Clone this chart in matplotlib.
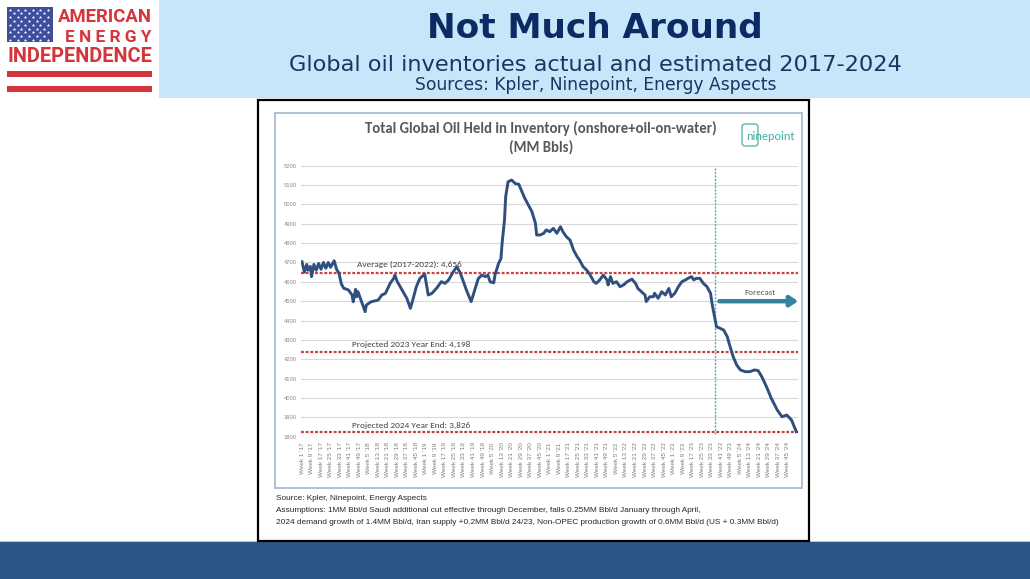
import matplotlib
matplotlib.use('Agg')
import matplotlib.pyplot as plt
from matplotlib.patches import Rectangle, FancyBboxPatch
import numpy as np

# ---------------- data ----------------
week_index = [0, 2, 4, 5, 7, 8, 10, 12, 14, 16, 18, 20, 22, 24, 27, 29, 31, 33, 35, 39,
              42, 43, 45, 46, 47, 50, 53, 54, 58, 64, 67, 70, 74, 77, 78, 80, 84, 88, 91, 93,
              96, 99, 103, 106, 109, 113, 117, 120, 123, 127, 130, 133, 135, 138, 142, 145,
              148, 151, 154, 156, 158, 161, 162, 165, 167, 168, 170, 171, 173, 176, 179, 182,
              184, 187, 190, 193, 196, 197, 200, 203, 205, 208, 211, 214, 217, 219, 222, 225,
              226, 228, 231, 233, 236, 239, 242, 245, 247, 250, 253, 256, 257, 259, 261, 264,
              267, 270, 273, 277, 280, 282, 285, 288, 289, 292, 295, 296, 299, 302, 305, 308,
              310, 313, 316, 319, 322, 324, 327, 329, 331, 334, 337, 340, 343, 344, 345, 348,
              351, 354, 357, 359, 362, 365, 368, 372, 376, 380, 383, 386, 390, 394, 399, 403,
              407, 411, 415]
inventory = [4704, 4650, 4690, 4660, 4680, 4627, 4690, 4660, 4695, 4665, 4700, 4670, 4700, 4675,
             4709, 4665, 4645, 4590, 4567, 4558, 4532, 4497, 4561, 4523, 4549, 4497, 4446, 4480,
             4497, 4506, 4532, 4540, 4592, 4618, 4635, 4601, 4558, 4515, 4463, 4506, 4575, 4618,
             4640, 4532, 4540, 4567, 4601, 4592, 4609, 4652, 4678, 4644, 4609, 4558, 4498, 4557,
             4617, 4635, 4627, 4635, 4600, 4595, 4635, 4695, 4720, 4799, 4919, 5040, 5117, 5126,
             5108, 5104, 5075, 5032, 4997, 4963, 4902, 4842, 4842, 4851, 4868, 4859, 4876, 4851,
             4885, 4859, 4833, 4816, 4799, 4764, 4730, 4713, 4678, 4661, 4635, 4601, 4592, 4610,
             4635, 4610, 4584, 4627, 4592, 4601, 4575, 4584, 4601, 4614, 4592, 4566, 4549, 4532,
             4498, 4523, 4523, 4541, 4515, 4549, 4532, 4566, 4523, 4541, 4575, 4601, 4610, 4618,
             4627, 4610, 4618, 4618, 4592, 4575, 4541, 4498, 4463, 4368, 4360, 4351, 4317, 4274,
             4213, 4170, 4145, 4136, 4136, 4145, 4141, 4110, 4058, 3998, 3938, 3903, 3912, 3886,
             3826]

ref_levels = [4648, 4238, 3822]
ref_labels = ["Average (2017-2022): 4,656",
              "Projected 2023 Year End: 4,198",
              "Projected 2024 Year End: 3,826"]
ref_label_x = [46, 42, 42]
ref_label_y = [4676, 4264, 3845]

forecast_start = 347
forecast_arrow = (350.4, 416.5, 4500)
forecast_text_pos = (384.5, 4544)

y_ticks = list(range(3800, 5201, 100))
tick_weeks = list(range(0, 409, 8))
tick_labels = ["Week %d '%d" % (w % 52 + 1, 17 + w // 52) for w in tick_weeks]

title = "Not Much Around"
subtitle = "Global oil inventories actual and estimated 2017-2024"
sources = "Sources: Kpler, Ninepoint, Energy Aspects"
chart_title1 = "Total Global Oil Held in Inventory (onshore+oil-on-water)"
chart_title2 = "(MM Bbls)"
notes = ["Source: Kpler, Ninepoint, Energy Aspects",
         "Assumptions: 1MM Bbl/d Saudi additional cut effective through December, falls 0.25MM Bbl/d January through April,",
         "2024 demand growth of 1.4MM Bbl/d, Iran supply +0.2MM Bbl/d 24/23, Non-OPEC production growth of 0.6MM Bbl/d (US + 0.3MM Bbl/d)"]

# ---------------- figure ----------------
W, H = 1030, 579
fig = plt.figure(figsize=(W / 100, H / 100), dpi=100)
fig.patch.set_facecolor('white')

deco = fig.add_axes([0, 0, 1, 1], zorder=0)
deco.set_xlim(0, W)
deco.set_ylim(H, 0)
deco.axis('off')

RED = '#d6343a'
NAVY = '#0c2a63'
CHART_FONT = ['Carlito', 'Lato', 'DejaVu Sans']
NARROW = ['Liberation Sans Narrow', 'Liberation Sans', 'DejaVu Sans']

# header band
deco.add_patch(Rectangle((159, 0), W - 159, 98, color='#c8e6fa', lw=0))
# bottom bar
deco.add_patch(Rectangle((0, 540.5), W, 2, color='#b7c6d6', lw=0))
deco.add_patch(Rectangle((0, 542), W, H - 542, color='#2a5785', lw=0))
# image box
deco.add_patch(Rectangle((257.5, 99.5), 551, 441, facecolor='white', edgecolor='black', lw=1.6))
# chart frame
deco.add_patch(Rectangle((275, 113), 527, 375, fill=False, edgecolor='#a9bccf', lw=1.3))

# logo: flag
deco.add_patch(Rectangle((7, 7), 46, 35, color='#3d4e9e', lw=0))
for r in range(9):
    yy = 9.5 + r * 3.8
    n = 6 if r % 2 == 0 else 5
    x0 = 10 if r % 2 == 0 else 13.8
    xs = [x0 + k * 7.6 for k in range(n)]
    deco.plot(xs, [yy] * n, ls='none', marker='*', ms=2.6, color='white', mew=0)
deco.add_patch(Rectangle((7, 71), 145, 6, color=RED, lw=0))
deco.add_patch(Rectangle((7, 86), 145, 6, color=RED, lw=0))
deco.text(152, 22.5, "AMERICAN", ha='right', va='baseline', fontsize=13.3, weight='bold',
          color=RED, family=['Roboto', 'DejaVu Sans'])
deco.text(151.5, 41.7, "E N E R G Y", ha='right', va='baseline', fontsize=12.4, weight='bold',
          color=RED, family=['Roboto', 'DejaVu Sans'])
deco.text(79.5, 62.5, "INDEPENDENCE", ha='center', va='baseline', fontsize=14.4, weight='bold',
          color=RED, family=['Roboto', 'DejaVu Sans'])

# titles
deco.text(595, 38.5, title, ha='center', va='baseline', fontsize=24.7, weight='bold',
          color=NAVY, family='DejaVu Sans')
deco.text(595.5, 71, subtitle, ha='center', va='baseline', fontsize=16.2,
          color='#1b3461', family='DejaVu Sans')
deco.text(595.5, 90.5, sources, ha='center', va='baseline', fontsize=12.3,
          color='#1b3461', family='DejaVu Sans')

# chart title
deco.text(540.5, 133.5, chart_title1, ha='center', va='baseline', fontsize=10.6, weight='bold',
          color='#595959', family=CHART_FONT)
deco.text(541, 151.5, chart_title2, ha='center', va='baseline', fontsize=10.6, weight='bold',
          color='#595959', family=CHART_FONT)

# ninepoint logo
deco.add_patch(FancyBboxPatch((742, 124), 16, 22, boxstyle='round,pad=0,rounding_size=3',
                              fill=False, edgecolor='#5cb8aa', lw=1.0))
deco.text(770, 136, "ninepoint", ha='center', va='center', fontsize=8.8,
          color='#3fae9f', family=CHART_FONT)

# notes
for txt, yb in zip(notes, [499.5, 512, 523.5]):
    deco.text(276, yb, txt, ha='left', va='baseline', fontsize=5.95, color='#262626', family=NARROW)

# ---------------- plot axes ----------------
left, right, top, bottom = 301, 797.5, 165.7, 436.7
ax = fig.add_axes([left / W, 1 - bottom / H, (right - left) / W, (bottom - top) / H], zorder=2)
ax.set_facecolor('none')
ax.set_xlim(-0.84, 416.0)
ax.set_ylim(3800, 5200)
for s in ax.spines.values():
    s.set_visible(False)
ax.set_yticks(y_ticks)
ax.set_yticklabels([str(v) for v in y_ticks])
ax.grid(axis='y', color='#d9d9d9', lw=0.8)
ax.set_axisbelow(True)
ax.tick_params(axis='y', length=0, pad=3, labelsize=4.2, labelcolor='#8c8c8c')
ax.set_xticks(tick_weeks)
ax.set_xticklabels(tick_labels, rotation=90, fontsize=4.6, color='#7f7f7f', family=NARROW)
ax.tick_params(axis='x', length=0, pad=4)
for lab in ax.get_yticklabels():
    lab.set_family(NARROW)

for lvl in ref_levels:
    ax.axhline(lvl, color='#c9403f', lw=1.6, ls=(0, (1.3, 0.8)), zorder=2)
for lab, lx, ly in zip(ref_labels, ref_label_x, ref_label_y):
    ax.text(lx, ly, lab, ha='left', va='baseline', fontsize=6.7, color='#404040', family=CHART_FONT)

ax.plot([forecast_start, forecast_start], [3815, 5195], color='#4bacc6', lw=1.0,
        ls=(0, (1.5, 1.0)), zorder=2)
ax.plot(week_index, inventory, color='#2f4f7e', lw=2.1, solid_joinstyle='round', zorder=3)

ax.annotate('', xy=(forecast_arrow[1], forecast_arrow[2]), xytext=(forecast_arrow[0], forecast_arrow[2]),
            arrowprops=dict(arrowstyle='-|>,head_length=0.45,head_width=0.3', lw=3.2,
                            color='#31849b', shrinkA=0, shrinkB=0),
            annotation_clip=False)
ax.text(forecast_text_pos[0], forecast_text_pos[1], 'Forecast', ha='center', va='center',
        fontsize=6.5, color='#595959', family=CHART_FONT)

fig.savefig('out.png', dpi=100, facecolor='white')
